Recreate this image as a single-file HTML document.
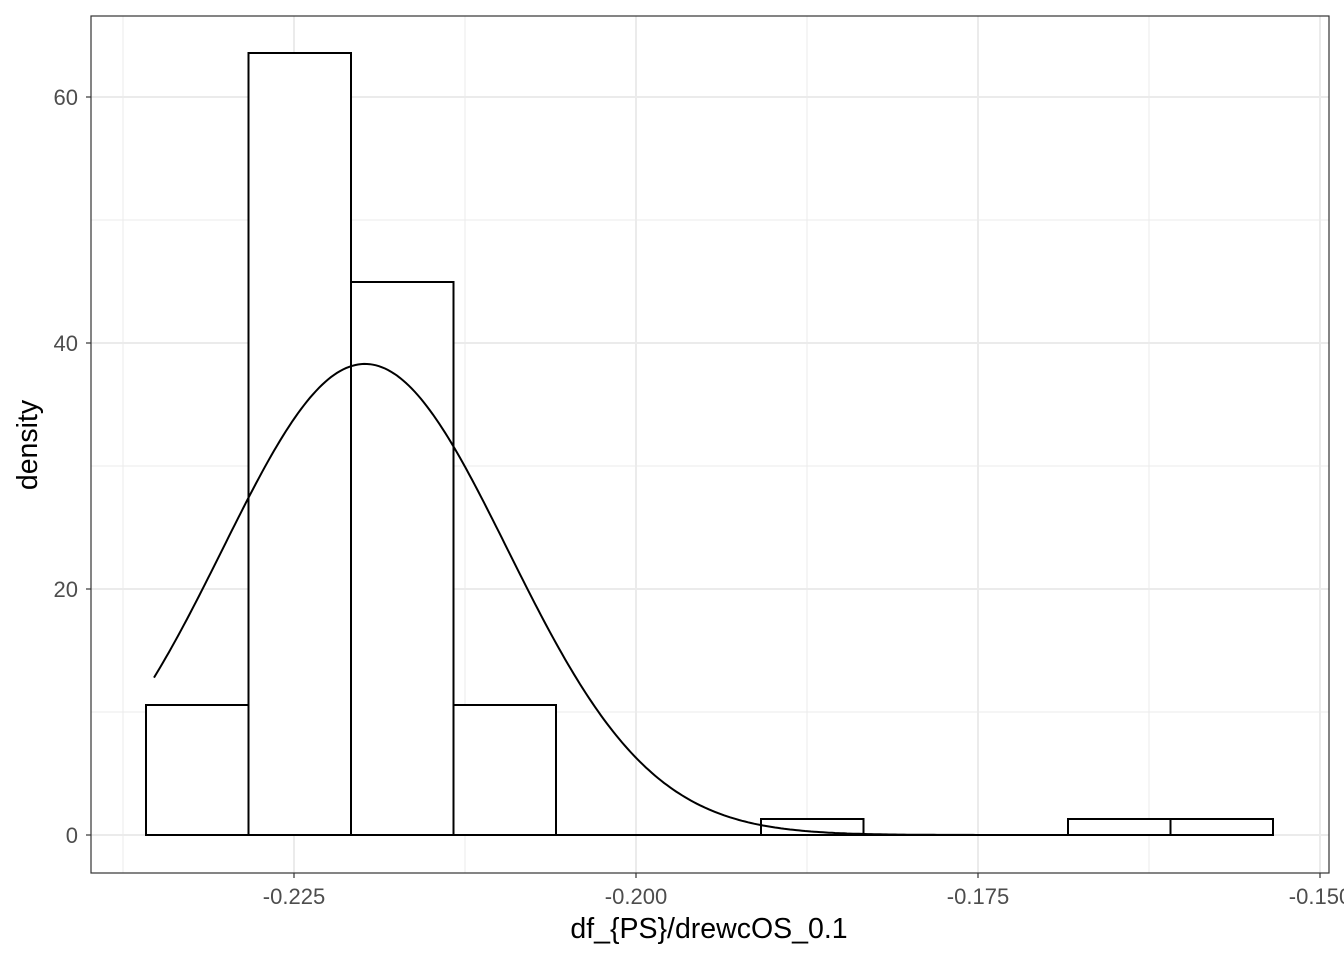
<!DOCTYPE html>
<html><head><meta charset="utf-8"><style>
body{margin:0;background:#fff}
svg{display:block;font-family:"Liberation Sans",sans-serif}
</style></head><body>
<svg id="s" width="1344" height="960" xmlns="http://www.w3.org/2000/svg">
<rect x="0" y="0" width="1344" height="960" fill="#fff"/>
<g stroke="#ebebeb" stroke-width="1">
<line x1="91" x2="1329" y1="712" y2="712"/><line x1="91" x2="1329" y1="466" y2="466"/><line x1="91" x2="1329" y1="220" y2="220"/>
<line x1="123" x2="123" y1="16" y2="873"/><line x1="465" x2="465" y1="16" y2="873"/><line x1="807" x2="807" y1="16" y2="873"/><line x1="1149" x2="1149" y1="16" y2="873"/>
</g>
<g stroke="#ebebeb" stroke-width="2">
<line x1="91" x2="1329" y1="835" y2="835"/><line x1="91" x2="1329" y1="589" y2="589"/><line x1="91" x2="1329" y1="343" y2="343"/><line x1="91" x2="1329" y1="97" y2="97"/>
<line x1="294" x2="294" y1="16" y2="873"/><line x1="636" x2="636" y1="16" y2="873"/><line x1="978" x2="978" y1="16" y2="873"/><line x1="1320" x2="1320" y1="16" y2="873"/>
</g>
<g fill="#fff" stroke="#000" stroke-width="2">
<rect x="146" y="705" width="102.5" height="130"/>
<rect x="248.5" y="53" width="102.5" height="782"/>
<rect x="351" y="282" width="102.5" height="553"/>
<rect x="453.5" y="705" width="102.5" height="130"/>
<line x1="556" x2="761" y1="835" y2="835"/>
<rect x="761" y="819" width="102.5" height="16"/>
<line x1="863.5" x2="1068" y1="835" y2="835"/>
<rect x="1068" y="819" width="102.5" height="16"/>
<rect x="1170.5" y="819" width="102.5" height="16"/>
</g>
<path id="c" fill="none" stroke="#000" stroke-width="2"/>
<rect x="91" y="16" width="1238" height="857" fill="none" stroke="#333" stroke-width="1.2"/>
<g stroke="#333" stroke-width="1.2">
<line x1="86" x2="91" y1="835" y2="835"/><line x1="86" x2="91" y1="589" y2="589"/><line x1="86" x2="91" y1="343" y2="343"/><line x1="86" x2="91" y1="97" y2="97"/>
<line x1="294" x2="294" y1="873" y2="878"/><line x1="636" x2="636" y1="873" y2="878"/><line x1="978" x2="978" y1="873" y2="878"/><line x1="1320" x2="1320" y1="873" y2="878"/>
</g>
<g fill="#4d4d4d" font-size="22" text-anchor="end">
<text x="78" y="843">0</text><text x="78" y="597">20</text><text x="78" y="351">40</text><text x="78" y="105">60</text>
</g>
<g fill="#4d4d4d" font-size="22" text-anchor="middle">
<text x="294" y="904">-0.225</text><text x="636" y="904">-0.200</text><text x="978" y="904">-0.175</text><text x="1320" y="904">-0.150</text>
</g>
<text x="709" y="938" font-size="28.5" text-anchor="middle">df_{PS}/drewcOS_0.1</text>
<text transform="translate(37,445) rotate(-90)" font-size="28.5" text-anchor="middle">density</text>
</svg>
<script>
var d="",mu=365,sd=142.5,pk=38.3;
for(var x=154;x<=1273;x+=3){var v=pk*Math.exp(-0.5*Math.pow((x-mu)/sd,2));var y=835-v*12.3;d+=(d?"L":"M")+x+","+y.toFixed(1);}
document.getElementById("c").setAttribute("d",d);
</script>
</body></html>
